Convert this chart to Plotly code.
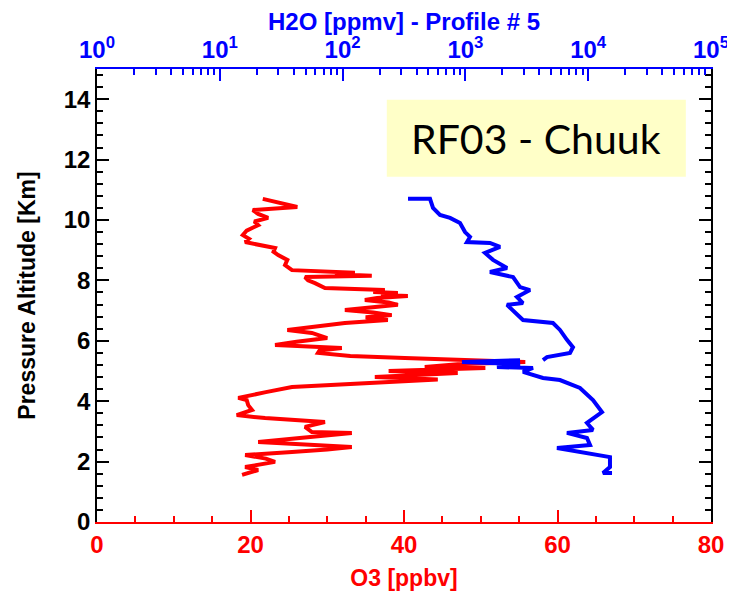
import plotly.graph_objects as go

# O3 profile (ppbv) vs pressure altitude (km)
o3_alt = [10.70, 10.55, 10.43, 10.33, 10.20, 10.07, 9.95, 9.83, 9.65, 9.50, 9.38, 9.27, 9.17,
          9.07, 8.95, 8.84, 8.68, 8.51, 8.34, 8.30, 8.25, 8.20, 8.15, 8.11, 8.00, 7.91, 7.75,
          7.68, 7.62, 7.58, 7.52, 7.48, 7.42, 7.35, 7.27, 7.19, 7.10, 7.02, 6.94, 6.85, 6.78,
          6.69, 6.59, 6.46, 6.36, 6.26, 6.09, 5.97, 5.86, 5.76, 5.68, 5.60, 5.50, 5.43, 5.36,
          5.30, 5.22, 5.13, 5.10, 5.00, 4.93, 4.80, 4.72, 4.60, 4.47, 4.30, 4.11, 4.04, 3.87,
          3.71, 3.54, 3.44, 3.31, 3.15, 2.98, 2.95, 2.80, 2.65, 2.48, 2.40, 2.32, 2.22, 2.10,
          1.99, 1.82, 1.72, 1.56]
o3_val = [21.6, 24.0, 26.1, 20.3, 21.0, 22.3, 20.5, 21.0, 19.5, 19.0, 19.8, 19.3, 21.5,
          23.2, 23.0, 23.6, 24.8, 24.5, 25.4, 30.0, 33.6, 31.0, 35.8, 27.1, 27.5, 28.4, 29.7,
          37.5, 36.0, 39.2, 37.0, 40.5, 36.5, 34.9, 38.0, 39.2, 35.5, 32.3, 36.0, 38.4, 35.0,
          37.9, 32.3, 27.5, 24.8, 28.0, 30.0, 26.0, 23.2, 31.9, 29.0, 28.8, 33.0, 40.1, 48.9,
          55.8, 47.0, 42.7, 50.6, 38.0, 47.0, 36.2, 44.4, 34.0, 25.4, 22.0, 18.4, 19.5, 19.7,
          20.2, 18.2, 21.9, 29.7, 27.1, 28.0, 33.2, 27.0, 21.0, 33.2, 30.0, 25.4, 19.3, 22.0,
          23.2, 19.3, 21.0, 18.9]

# H2O profile (ppmv) vs pressure altitude (km); None marks the short break near 5.35 km
h2o_alt = [10.70, 10.70, 10.40, 10.17, 10.07, 9.90, 9.60, 9.44, 9.27, 9.24, 9.11, 8.91,
           8.68, 8.41, 8.28, 8.11, 7.78, 7.68, 7.45, 7.25, 7.19, 6.92, 6.69, 6.59, 6.36,
           6.03, 5.79, 5.60, 5.46, 5.36, None, 5.36, 5.33, 5.30, 5.23, 5.13, 5.10, 4.97, 4.77, 4.70,
           4.44, 4.04, 3.64, 3.28, 3.05, 2.95, 2.78, 2.55, 2.45, 2.28, 2.15, 1.82, 1.62, 1.62]
h2o_val = [341, 515, 545, 621, 750, 904, 993, 1090, 1030, 1585, 1914, 1445,
           1678, 2183, 1585, 2443, 2786, 3358, 2630, 2944, 2183, 2535, 2944, 5166, 5890,
           6714, 7516, 7108, 4616, 4285, None, 2786, 1090, 938, 2786, 1808, 3550, 2944, 4285, 5890,
           8570, 10940, 12950, 9770, 10940, 6714, 9770, 10350, 5570, 10350, 15040, 15040, 13190, 15630]

o3_ticks = [0, 20, 40, 60, 80]
h2o_tickvals = [1, 10, 100, 1000, 10000, 100000]
h2o_ticktext = ["10<sup>0</sup>", "10<sup>1</sup>", "10<sup>2</sup>", "10<sup>3</sup>",
                "10<sup>4</sup>", "10<sup>5</sup>"]
alt_ticks = [0, 2, 4, 6, 8, 10, 12, 14]

RED = "#ff0000"
BLUE = "#0000ff"
FONT = "Liberation Sans"

fig = go.Figure()
fig.add_trace(go.Scatter(x=o3_val, y=o3_alt, mode="lines", line=dict(color=RED, width=4),
                         xaxis="x", yaxis="y", showlegend=False))
fig.add_trace(go.Scatter(x=h2o_val, y=h2o_alt, mode="lines", line=dict(color=BLUE, width=4),
                         xaxis="x2", yaxis="y", showlegend=False, connectgaps=False))

fig.update_layout(
    width=735, height=593,
    margin=dict(l=89, r=32, t=61, b=79, autoexpand=False),
    paper_bgcolor="white", plot_bgcolor="white",
    font=dict(family=FONT, color="black"),
    xaxis=dict(
        range=[0, 80], tickmode="array", tickvals=o3_ticks, automargin=False,
        showline=True, linecolor=RED, linewidth=1.5,
        ticks="inside", ticklen=12, tickcolor=RED, tickwidth=1.5,
        minor=dict(dtick=5, ticks="inside", ticklen=6, tickcolor=RED, tickwidth=1.5, showgrid=False),
        tickfont=dict(family=FONT, size=24, color=RED, weight="bold"),
        title=dict(text="<b>O3 [ppbv]</b>", font=dict(family=FONT, size=23, color=RED), standoff=13),
        showgrid=False, zeroline=False,
    ),
    xaxis2=dict(
        type="log", range=[0, 5], overlaying="x", side="top", anchor="y", automargin=False,
        tickmode="array", tickvals=h2o_tickvals, ticktext=h2o_ticktext,
        showline=True, linecolor=BLUE, linewidth=1.5,
        ticks="inside", ticklen=12, tickcolor=BLUE, tickwidth=1.5,
        minor=dict(dtick="D1", ticks="inside", ticklen=6, tickcolor=BLUE, tickwidth=1.5, showgrid=False),
        tickfont=dict(family=FONT, size=24, color=BLUE, weight="bold"),
        title=dict(text="<b>H2O [ppmv] - Profile # 5</b>", font=dict(family=FONT, size=24, color=BLUE), standoff=4),
        showgrid=False, zeroline=False,
    ),
    yaxis=dict(
        range=[0, 15], tickmode="array", tickvals=alt_ticks, automargin=False,
        showline=True, linecolor="black", linewidth=1.5, mirror="ticks",
        ticks="inside", ticklen=12, tickcolor="black", tickwidth=1.5,
        minor=dict(tick0=0, dtick=0.4, ticks="inside", ticklen=6, tickcolor="black", tickwidth=1.5, showgrid=False),
        tickfont=dict(family=FONT, size=24, color="black", weight="bold"),
        title=dict(text="<b>Pressure Altitude [Km]</b>", font=dict(family=FONT, size=23, color="black"), standoff=22),
        showgrid=False, zeroline=False,
    ),
    shapes=[dict(type="rect", xref="paper", yref="paper", x0=0.472, x1=0.959, y0=0.762, y1=0.932,
                 fillcolor="#ffffc8", line=dict(width=0), layer="above")],
    annotations=[dict(text="RF03 - Chuuk", xref="paper", yref="paper", x=0.7155, y=0.847,
                      xanchor="center", yanchor="middle", showarrow=False,
                      font=dict(family="Lato", size=41, color="black"))],
)

fig.write_html("out.html")
